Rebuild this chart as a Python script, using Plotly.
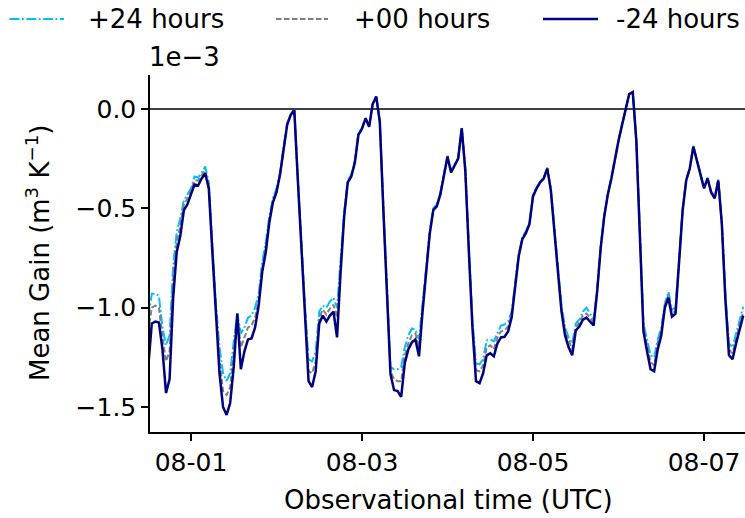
import pandas as pd
import plotly.graph_objects as go

# Figure geometry (pixels)
W, H = 745, 518
L, R, T, B = 150, 0, 75, 86
FONT = "DejaVu Sans"

# Hourly observation times
times = pd.date_range("2023-07-31 12:00", periods=168, freq="h")

# Mean gain, in units of 1e-3 m^3 K^-1
gain_p24 = [
    -1.05, -0.93, -0.93, -0.94, -1.10, -1.19, -1.14, -0.79, -0.62, -0.55,
    -0.46, -0.43, -0.40, -0.34, -0.345, -0.32, -0.29, -0.37, -0.68, -0.98,
    -1.20, -1.33, -1.37, -1.33, -1.17, -1.03, -1.13, -1.10, -1.05, -1.04,
    -1.00, -0.93, -0.77, -0.67, -0.54, -0.45, -0.40, -0.32, -0.19, -0.075,
    -0.025, -0.005, -0.35, -0.68, -1.00, -1.26, -1.27, -1.22, -1.02, -0.99,
    -1.00, -0.97, -0.95, -1.00, -0.78, -0.52, -0.36, -0.33, -0.26, -0.12,
    -0.095, -0.045, -0.085, 0.025, 0.062, -0.06, -0.49, -0.91, -1.30, -1.31,
    -1.31, -1.30, -1.20, -1.14, -1.105, -1.11, -1.16, -0.98, -0.80, -0.62,
    -0.50, -0.48, -0.42, -0.33, -0.235, -0.31, -0.28, -0.245, -0.095, -0.30,
    -0.70, -1.06, -1.28, -1.285, -1.26, -1.165, -1.16, -1.17, -1.13, -1.09,
    -1.085, -1.07, -1.02, -0.87, -0.73, -0.645, -0.615, -0.57, -0.435, -0.395,
    -0.365, -0.345, -0.295, -0.40, -0.59, -0.80, -0.99, -1.10, -1.15, -1.18,
    -1.08, -1.06, -1.02, -1.00, -1.03, -1.06, -0.91, -0.69, -0.535, -0.425,
    -0.345, -0.245, -0.155, -0.078, 0.00, 0.075, 0.085, -0.16, -0.62, -1.08,
    -1.16, -1.24, -1.25, -1.16, -1.10, -0.98, -0.92, -1.01, -1.00, -0.73,
    -0.505, -0.355, -0.295, -0.185, -0.255, -0.325, -0.395, -0.345, -0.415, -0.445,
    -0.355, -0.57, -0.93, -1.18, -1.20, -1.13, -1.06, -0.995,
]

gain_p00 = [
    -1.12, -1.00, -0.99, -1.00, -1.15, -1.27, -1.22, -0.86, -0.67, -0.59,
    -0.48, -0.45, -0.41, -0.36, -0.36, -0.335, -0.31, -0.38, -0.70, -1.00,
    -1.26, -1.42, -1.44, -1.40, -1.23, -1.03, -1.20, -1.15, -1.10, -1.09,
    -1.05, -0.96, -0.80, -0.70, -0.555, -0.46, -0.41, -0.325, -0.195, -0.078,
    -0.028, -0.005, -0.355, -0.69, -1.03, -1.32, -1.33, -1.27, -1.05, -1.01,
    -1.035, -1.005, -0.985, -1.05, -0.80, -0.53, -0.365, -0.335, -0.265, -0.125,
    -0.098, -0.046, -0.088, 0.025, 0.062, -0.063, -0.50, -0.925, -1.32, -1.36,
    -1.37, -1.37, -1.24, -1.18, -1.14, -1.13, -1.20, -1.00, -0.81, -0.625,
    -0.505, -0.485, -0.425, -0.335, -0.238, -0.315, -0.283, -0.248, -0.096, -0.305,
    -0.71, -1.08, -1.315, -1.32, -1.29, -1.20, -1.19, -1.21, -1.15, -1.12,
    -1.115, -1.095, -1.035, -0.88, -0.735, -0.65, -0.62, -0.575, -0.438, -0.398,
    -0.368, -0.348, -0.298, -0.405, -0.595, -0.81, -1.005, -1.12, -1.17, -1.21,
    -1.10, -1.075, -1.04, -1.03, -1.05, -1.075, -0.915, -0.695, -0.538, -0.428,
    -0.348, -0.248, -0.158, -0.079, 0.00, 0.075, 0.085, -0.16, -0.63, -1.10,
    -1.19, -1.275, -1.29, -1.18, -1.12, -0.99, -0.935, -1.025, -1.02, -0.735,
    -0.508, -0.358, -0.298, -0.188, -0.258, -0.328, -0.398, -0.348, -0.418, -0.448,
    -0.358, -0.575, -0.945, -1.21, -1.23, -1.155, -1.085, -1.02,
]

gain_m24 = [
    -1.30, -1.08, -1.07, -1.075, -1.21, -1.43, -1.36, -0.95, -0.72, -0.64,
    -0.51, -0.48, -0.43, -0.38, -0.385, -0.35, -0.325, -0.40, -0.72, -1.03,
    -1.33, -1.50, -1.54, -1.48, -1.30, -1.03, -1.31, -1.22, -1.16, -1.155,
    -1.10, -0.99, -0.82, -0.72, -0.57, -0.47, -0.42, -0.33, -0.20, -0.08,
    -0.03, -0.005, -0.36, -0.70, -1.05, -1.37, -1.40, -1.32, -1.08, -1.04,
    -1.07, -1.04, -1.02, -1.15, -0.82, -0.54, -0.37, -0.34, -0.27, -0.13,
    -0.10, -0.047, -0.09, 0.025, 0.062, -0.065, -0.51, -0.94, -1.335, -1.415,
    -1.42, -1.449, -1.28, -1.21, -1.175, -1.16, -1.245, -1.02, -0.82, -0.63,
    -0.51, -0.49, -0.43, -0.34, -0.24, -0.32, -0.285, -0.25, -0.097, -0.31,
    -0.72, -1.10, -1.37, -1.38, -1.33, -1.24, -1.23, -1.245, -1.18, -1.15,
    -1.147, -1.12, -1.05, -0.89, -0.74, -0.655, -0.625, -0.58, -0.44, -0.40,
    -0.37, -0.35, -0.30, -0.41, -0.60, -0.82, -1.02, -1.14, -1.20, -1.24,
    -1.115, -1.095, -1.06, -1.05, -1.07, -1.09, -0.92, -0.70, -0.54, -0.43,
    -0.35, -0.25, -0.16, -0.08, 0.00, 0.075, 0.085, -0.16, -0.64, -1.12,
    -1.22, -1.31, -1.32, -1.21, -1.14, -1.00, -0.95, -1.045, -1.03, -0.74,
    -0.51, -0.36, -0.30, -0.19, -0.26, -0.33, -0.40, -0.35, -0.42, -0.45,
    -0.36, -0.58, -0.96, -1.24, -1.26, -1.18, -1.11, -1.04,
]

series_names = ["+24 hours", "+00 hours", "-24 hours"]
series_colors = ["#00bfff", "#808080", "#000080"]
series_dash = ["10px,2.5px,1.8px,2.5px", "5.5px,2.5px", "solid"]
series_width = [2.0, 2.0, 2.5]

x_ticks = ["2023-08-01", "2023-08-03", "2023-08-05", "2023-08-07"]
y_ticks = [0.0, -0.5, -1.0, -1.5]
x_range = ["2023-07-31 12:30", "2023-08-07 11:30"]
y_range = [-1.626, 0.171]


def px_x(px):
    return (px - L) / (W - L - R)


def px_y(py):
    return (H - B - py) / (H - T - B)


fig = go.Figure()
for vals, name, color, dash, width in zip(
    [gain_p24, gain_p00, gain_m24], series_names, series_colors, series_dash, series_width
):
    fig.add_trace(go.Scatter(
        x=times, y=vals, mode="lines", name=name,
        line=dict(color=color, dash=dash, width=width),
        showlegend=False,
    ))

shapes = [
    # horizontal reference at zero gain
    dict(type="line", xref="paper", yref="y", x0=0, x1=1, y0=0, y1=0,
         line=dict(color="black", width=1.4), layer="below"),
]
annotations = []

# Legend row drawn above the axes
legend_lines = [(9.5, 64), (276, 328), (543, 598)]
legend_text_x = [86, 352, 614]
legend_y = 19
for (x0, x1), tx, name, color, dash, width in zip(
    legend_lines, legend_text_x, series_names, series_colors, series_dash, series_width
):
    shapes.append(dict(type="line", xref="paper", yref="paper",
                       x0=px_x(x0), x1=px_x(x1), y0=px_y(legend_y), y1=px_y(legend_y),
                       line=dict(color=color, dash=dash, width=width)))
    annotations.append(dict(text=name, xref="paper", yref="paper",
                            x=px_x(tx), y=px_y(legend_y), xanchor="left", yanchor="middle",
                            showarrow=False, font=dict(size=26, color="black", family=FONT)))

annotations += [
    dict(text="1e\u22123", xref="paper", yref="paper", x=px_x(147), y=px_y(57),
         xanchor="left", yanchor="middle", showarrow=False,
         font=dict(size=26, color="black", family=FONT)),
    dict(text="Mean Gain (m<sup>3</sup> K<sup>\u22121</sup>)", xref="paper", yref="paper",
         x=px_x(38), y=px_y(253), xanchor="center", yanchor="middle", textangle=-90,
         showarrow=False, font=dict(size=26, color="black", family=FONT)),
    dict(text="Observational time (UTC)", xref="paper", yref="paper",
         x=px_x(448), y=px_y(500), xanchor="center", yanchor="middle",
         showarrow=False, font=dict(size=26, color="black", family=FONT)),
]

axis_common = dict(
    showline=True, linecolor="black", linewidth=1.5, mirror=False,
    ticks="outside", ticklen=7, tickwidth=1.5, tickcolor="black",
    showgrid=False, zeroline=False,
    tickfont=dict(size=25, color="black", family=FONT),
)

fig.update_layout(
    width=W, height=H,
    margin=dict(l=L, r=R, t=T, b=B),
    paper_bgcolor="white", plot_bgcolor="white",
    font=dict(family=FONT, color="black"),
    shapes=shapes, annotations=annotations,
    xaxis=dict(range=x_range, tickvals=x_ticks, tickformat="%m-%d", **axis_common),
    yaxis=dict(range=y_range, tickvals=y_ticks, tickformat=".1f", **axis_common),
)

fig.write_html("out.html")
